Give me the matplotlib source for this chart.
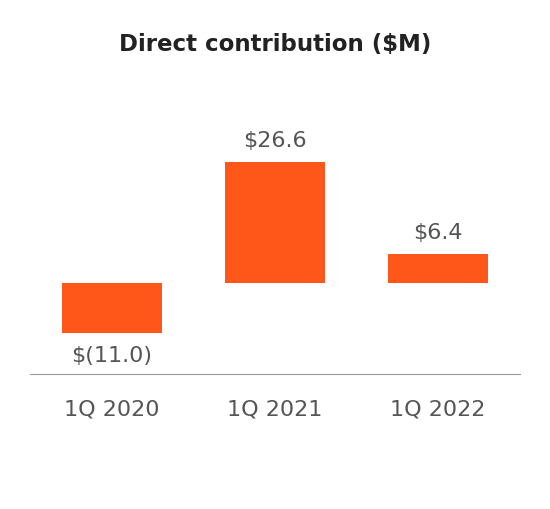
import matplotlib
matplotlib.use("Agg")
import matplotlib.pyplot as plt

categories = ["1Q 2020", "1Q 2021", "1Q 2022"]
values = [-11.0, 26.6, 6.4]
labels = ["$(11.0)", "$26.6", "$6.4"]

plt.rcParams['font.family'] = ['DejaVu Sans']
fig = plt.figure(figsize=(5.5, 5.1), dpi=100)
ax = fig.add_axes([0.055, 0.265, 0.89, 0.539])
x = list(range(len(categories)))
ax.bar(x, values, width=0.61, color="#FF5719")
ax.set_xlim(-0.5, 2.5)
ax.set_ylim(-20, 40.4)
for xi, v, l in zip(x, values, labels):
    if v >= 0:
        ax.text(xi, v + 2.6, l, ha="center", va="bottom", fontsize=16, color="#555555")
    else:
        ax.text(xi, v - 2.6, l, ha="center", va="top", fontsize=16, color="#555555")
for s in ["top", "right", "left"]:
    ax.spines[s].set_visible(False)
ax.spines["bottom"].set_color("#999999")
ax.spines["bottom"].set_position(("data", -20))
ax.set_yticks([])
ax.set_xticks(x)
ax.set_xticklabels(categories, fontsize=16, color="#555555")
ax.tick_params(axis="x", length=0, pad=18)
fig.text(0.5, 1 - 45/510, "Direct contribution ($M)", ha="center", va="center",
         fontsize=16.5, fontweight="bold", color="#222222")
fig.savefig("out.png", dpi=100)
